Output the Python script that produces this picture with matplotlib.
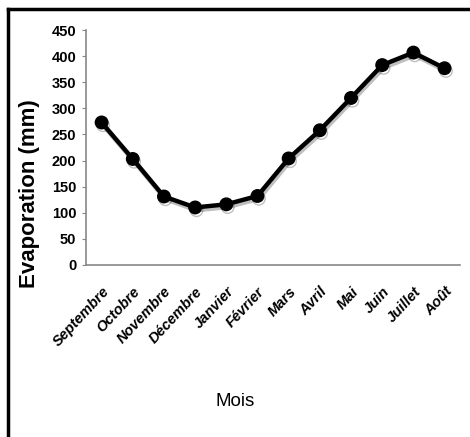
import matplotlib

matplotlib.use("Agg")
import matplotlib.pyplot as plt
import matplotlib.patheffects as pe
from matplotlib.lines import Line2D

MONTHS = ["Septembre", "Octobre", "Novembre", "Décembre", "Janvier", "Février",
          "Mars", "Avril", "Mai", "Juin", "Juillet", "Août"]
EVAP = [273, 203, 131, 110, 116, 132, 204, 258, 320, 383, 407, 377]
YTICKS = list(range(0, 451, 50))

plt.rcParams["font.family"] = ["Liberation Sans", "DejaVu Sans"]

fig = plt.figure(figsize=(4.7, 4.37), dpi=100)
ax = fig.add_axes([0.183, 0.394, 0.796, 0.537])

x = list(range(len(MONTHS)))
ax.plot(x, EVAP, "o-", color="black", lw=3.2, ms=9,
        path_effects=[pe.SimpleLineShadow(offset=(1, -2), alpha=0.25),
                      pe.Normal()])

ax.set_xlim(-0.5, len(MONTHS) - 0.5)
ax.set_ylim(0, 450)
ax.set_yticks(YTICKS)
ax.set_yticklabels([str(v) for v in YTICKS], fontsize=10.5, fontweight="bold")
ax.set_xticks(x)
ax.set_xticklabels(MONTHS, fontsize=10.5, fontweight="bold", style="italic",
                   rotation=47, ha="right", rotation_mode="anchor")
ax.tick_params(axis="x", length=0, pad=14)
ax.tick_params(axis="y", length=3, color="#888888", pad=4)
ax.spines[["top", "right"]].set_visible(False)
ax.spines[["left", "bottom"]].set_color("#888888")
ax.spines[["left", "bottom"]].set_linewidth(1.2)

fig.text(30 / 470, 1 - 194 / 437, "Evaporation (mm)", fontsize=16,
         fontweight="bold", rotation=90, ha="center", va="center")
fig.text(0.5, 1 - 402 / 437, "Mois", fontsize=13.5, ha="center", va="center")

# chart frame (only top and left edges visible in the original)
fig.add_artist(Line2D([8 / 470, 1], [1 - 9 / 437, 1 - 9 / 437],
                      color="black", lw=2.5, transform=fig.transFigure))
fig.add_artist(Line2D([8 / 470, 8 / 470], [0, 1 - 9 / 437],
                      color="black", lw=2.5, transform=fig.transFigure))

fig.savefig("out.png", dpi=100)
